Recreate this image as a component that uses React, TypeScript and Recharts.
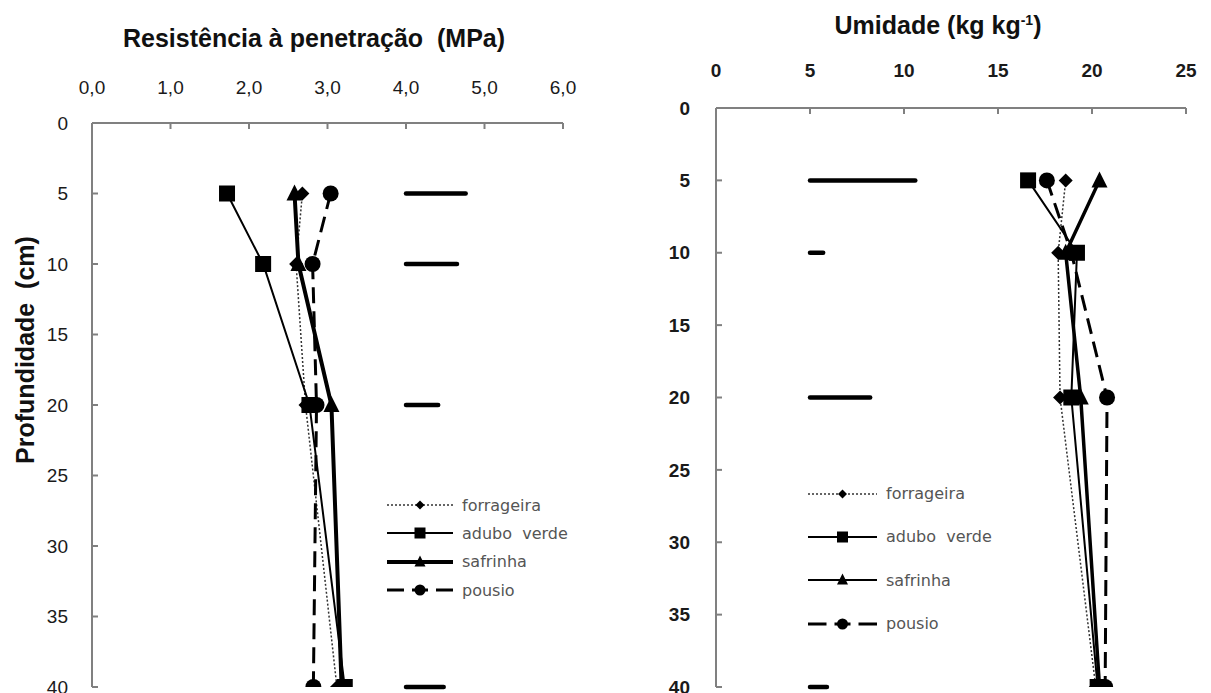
import React from 'react';
import { ScatterChart, Scatter, XAxis, YAxis, ReferenceLine } from 'recharts';

const depths = [5, 10, 20, 40];
const depthTicks = [0, 5, 10, 15, 20, 25, 30, 35, 40];

// Resistência à penetração (MPa)
const rpForrageira = [2.68, 2.6, 2.72, 3.12];
const rpAduboVerde = [1.72, 2.18, 2.77, 3.22];
const rpSafrinha = [2.58, 2.63, 3.05, 3.18];
const rpPousio = [3.04, 2.81, 2.86, 2.82];
const rpDmsStart = 4;
const rpDmsEnd = [4.76, 4.65, 4.41, 4.48];
const rpTicks = [0, 1, 2, 3, 4, 5, 6];

// Umidade (kg kg-1)
const umForrageira = [18.6, 18.2, 18.3, 20.2];
const umAduboVerde = [16.6, 19.2, 18.9, 20.3];
const umSafrinha = [20.4, 18.6, 19.4, 20.4];
const umPousio = [17.6, 18.9, 20.8, 20.7];
const umDmsStart = 5;
const umDmsEnd = [10.6, 5.7, 8.2, 5.9];
const umTicks = [0, 5, 10, 15, 20, 25];

const seriesNames = ['forrageira', 'adubo verde', 'safrinha', 'pousio'];

type MarkerType = 'diamond' | 'square' | 'triangle' | 'circle';

const markerTypes: MarkerType[] = ['diamond', 'square', 'triangle', 'circle'];

const AXIS = '#808080';
const TEXT = '#1a1a1a';

function Marker({ type, cx, cy, s }: { type: MarkerType; cx: number; cy: number; s: number }) {
  const h = s / 2;
  if (type === 'diamond') {
    return <polygon points={`${cx},${cy - h} ${cx + h},${cy} ${cx},${cy + h} ${cx - h},${cy}`} fill="#000" />;
  }
  if (type === 'square') {
    return <rect x={cx - h} y={cy - h} width={s} height={s} fill="#000" />;
  }
  if (type === 'triangle') {
    return <polygon points={`${cx},${cy - h - 1} ${cx + h},${cy + h - 1} ${cx - h},${cy + h - 1}`} fill="#000" />;
  }
  return <circle cx={cx} cy={cy} r={h} fill="#000" />;
}

const toPoints = (vals: number[]) => vals.map((v, i) => ({ x: v, y: depths[i] }));

interface LineStyle {
  strokeWidth: number;
  strokeDasharray?: string;
  stroke: string;
}

const leftStyles: LineStyle[] = [
  { stroke: '#333', strokeWidth: 1.5, strokeDasharray: '2 2' },
  { stroke: '#000', strokeWidth: 2 },
  { stroke: '#000', strokeWidth: 4 },
  { stroke: '#000', strokeWidth: 3, strokeDasharray: '16 8' },
];

const rightStyles: LineStyle[] = [
  { stroke: '#333', strokeWidth: 1.5, strokeDasharray: '2 2' },
  { stroke: '#000', strokeWidth: 2 },
  { stroke: '#000', strokeWidth: 3.5 },
  { stroke: '#000', strokeWidth: 3, strokeDasharray: '16 8' },
];

// the legend on the right draws safrinha with a thin line
const rightLegendStyles: LineStyle[] = [
  rightStyles[0],
  rightStyles[1],
  { stroke: '#000', strokeWidth: 2 },
  rightStyles[3],
];

const markerSizes = [14, 16, 16, 16];

function Legend2({
  left,
  top,
  rowHeight,
  lineLen,
  styles,
}: {
  left: number;
  top: number;
  rowHeight: number;
  lineLen: number;
  styles: LineStyle[];
}) {
  const legendMarker = [9, 11, 11, 11];
  return (
    <div style={{ position: 'absolute', left, top }}>
      {seriesNames.map((name, i) => {
        const st = styles[i];
        const mid = lineLen / 2;
        return (
          <div key={name} style={{ display: 'flex', alignItems: 'center', height: rowHeight }}>
            <svg width={lineLen} height={20} style={{ display: 'block' }}>
              <line
                x1={0}
                x2={lineLen}
                y1={10}
                y2={10}
                stroke={st.stroke}
                strokeWidth={st.strokeWidth}
                strokeDasharray={i === 3 ? `${mid - 16} 8 16 8` : st.strokeDasharray}
              />
              <Marker type={markerTypes[i]} cx={mid} cy={10} s={legendMarker[i]} />
            </svg>
            <span
              style={{
                marginLeft: 9,
                fontFamily: '"DejaVu Sans", Verdana, sans-serif',
                fontSize: 16,
                color: '#555',
                whiteSpace: 'pre',
              }}
            >
              {name === 'adubo verde' ? 'adubo  verde' : name}
            </span>
          </div>
        );
      })}
    </div>
  );
}

function DepthChart({
  width,
  xTicks,
  xDomain,
  plotLeft,
  plotTop,
  plotRight,
  plotBottom,
  series,
  styles,
  dmsStart,
  dmsEnd,
  xFormat,
  xTickMargin,
  yTickMargin,
  bold,
}: {
  width: number;
  xTicks: number[];
  xDomain: [number, number];
  plotLeft: number;
  plotTop: number;
  plotRight: number;
  plotBottom: number;
  series: number[][];
  styles: LineStyle[];
  dmsStart: number;
  dmsEnd: number[];
  xFormat: (v: number) => string;
  xTickMargin: number;
  yTickMargin: number;
  bold: boolean;
}) {
  const tickStyle = {
    fill: TEXT,
    fontSize: 19,
    fontFamily: '"Liberation Sans", Arial, sans-serif',
    fontWeight: bold ? 700 : 400,
  };
  return (
    <ScatterChart
      width={width}
      height={693}
      margin={{ top: 0, left: 0, right: width - plotRight, bottom: 693 - plotBottom }}
    >
      <XAxis
        type="number"
        dataKey="x"
        orientation="top"
        domain={xDomain}
        ticks={xTicks}
        interval={0}
        height={plotTop}
        tickSize={-6}
        tickMargin={xTickMargin}
        tickFormatter={xFormat}
        axisLine={{ stroke: AXIS, strokeWidth: 2 }}
        tickLine={{ stroke: AXIS, strokeWidth: 2 }}
        tick={tickStyle}
        allowDataOverflow
      />
      <YAxis
        type="number"
        dataKey="y"
        domain={[0, 40]}
        reversed
        ticks={depthTicks}
        interval={0}
        width={plotLeft}
        tickSize={-6}
        tickMargin={yTickMargin}
        axisLine={{ stroke: AXIS, strokeWidth: 2 }}
        tickLine={{ stroke: AXIS, strokeWidth: 2 }}
        tick={tickStyle}
        allowDataOverflow
      />
      {depths.map((d, i) => (
        <ReferenceLine
          key={`dms-${d}`}
          segment={[
            { x: dmsStart, y: d },
            { x: dmsEnd[i], y: d },
          ]}
          stroke="#000"
          strokeWidth={4.5}
          strokeLinecap="round"
          ifOverflow="visible"
        />
      ))}
      {series.map((vals, i) => (
        <Scatter
          key={seriesNames[i]}
          name={seriesNames[i]}
          data={toPoints(vals)}
          fill="#000"
          line={styles[i]}
          lineType="joint"
          isAnimationActive={false}
          shape={(p: any) => <Marker type={markerTypes[i]} cx={p.cx} cy={p.cy} s={markerSizes[i]} />}
        />
      ))}
    </ScatterChart>
  );
}

const titleStyle: React.CSSProperties = {
  position: 'absolute',
  fontFamily: '"Liberation Sans", Arial, sans-serif',
  fontWeight: 700,
  fontSize: 25,
  lineHeight: '25px',
  color: '#111',
  whiteSpace: 'pre',
  textAlign: 'center',
};

export default function App() {
  return (
    <div
      style={{
        position: 'absolute',
        left: 0,
        top: 0,
        width: 1211,
        height: 693,
        background: '#fff',
        overflow: 'hidden',
      }}
    >
      <div style={{ position: 'absolute', left: 0, top: 0 }}>
        <DepthChart
          width={600}
          xTicks={rpTicks}
          xDomain={[0, 6]}
          plotLeft={92}
          plotTop={123}
          plotRight={563}
          plotBottom={687}
          series={[rpForrageira, rpAduboVerde, rpSafrinha, rpPousio]}
          styles={leftStyles}
          dmsStart={rpDmsStart}
          dmsEnd={rpDmsEnd}
          xFormat={(v) => v.toFixed(1).replace('.', ',')}
          xTickMargin={35}
          yTickMargin={30}
          bold={false}
        />
      </div>
      <div style={{ position: 'absolute', left: 600, top: 0 }}>
        <DepthChart
          width={611}
          xTicks={umTicks}
          xDomain={[0, 25]}
          plotLeft={116}
          plotTop={108}
          plotRight={586}
          plotBottom={687}
          series={[umForrageira, umAduboVerde, umSafrinha, umPousio]}
          styles={rightStyles}
          dmsStart={umDmsStart}
          dmsEnd={umDmsEnd}
          xFormat={(v) => String(v)}
          xTickMargin={37}
          yTickMargin={32}
          bold={true}
        />
      </div>

      <div style={{ ...titleStyle, left: 114, top: 26, width: 400 }}>Resistência à penetração  (MPa)</div>
      <div style={{ ...titleStyle, left: 788, top: 13, width: 300 }}>
        Umidade (kg kg<sup style={{ fontSize: 14, lineHeight: 0 }}>-1</sup>)
      </div>
      <div
        style={{
          ...titleStyle,
          left: 25,
          top: 350,
          transform: 'translate(-50%, -50%) rotate(-90deg)',
        }}
      >
        Profundidade  (cm)
      </div>

      <Legend2 left={387} top={491} rowHeight={28.3} lineLen={66} styles={leftStyles} />
      <Legend2 left={808} top={472} rowHeight={43.3} lineLen={69} styles={rightLegendStyles} />
    </div>
  );
}
